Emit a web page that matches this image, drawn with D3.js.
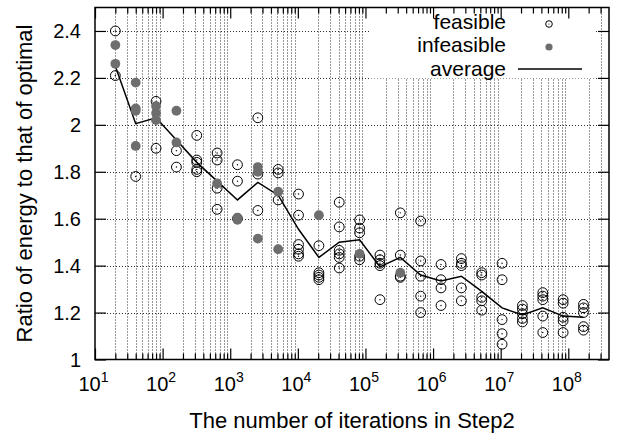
<!DOCTYPE html>
<html>
<head>
<meta charset="utf-8">
<script src="https://cdn.jsdelivr.net/npm/d3@7"></script>
<style>
  body { margin: 0; background: #fff; }
  svg { font-family: "Liberation Sans", Arial, sans-serif; }
</style>
</head>
<body>
<div id="chart"></div>
<script>
// iterations in Step2 (x), one column of points per value
var iterations = [20, 40, 80, 160, 320, 640, 1280, 2560, 5120, 10240, 20480, 40960,
  81920, 163840, 327680, 655360, 1310720, 2621440, 5242880, 10485760, 20971520,
  41943040, 83886080, 167772160];

// ratio of energy, feasible runs (open circles)
var feasible = [
  [2.40, 2.21],
  [1.78],
  [2.10, 1.90],
  [1.89, 1.82],
  [1.955, 1.85, 1.84, 1.81, 1.80],
  [1.88, 1.85, 1.73, 1.64],
  [1.83, 1.76, 1.60],
  [2.03, 1.79, 1.635],
  [1.81, 1.795, 1.68],
  [1.705, 1.615, 1.49, 1.47, 1.45, 1.44],
  [1.485, 1.37, 1.36, 1.35, 1.34],
  [1.67, 1.565, 1.465, 1.45, 1.435, 1.39],
  [1.595, 1.56, 1.54, 1.44, 1.425],
  [1.445, 1.425, 1.41, 1.40, 1.255],
  [1.625, 1.445, 1.355, 1.35],
  [1.59, 1.42, 1.355, 1.27, 1.20],
  [1.405, 1.34, 1.305, 1.23],
  [1.43, 1.41, 1.40, 1.305, 1.25],
  [1.37, 1.36, 1.265, 1.25, 1.21],
  [1.41, 1.34, 1.17, 1.11, 1.065],
  [1.23, 1.215, 1.195, 1.175, 1.16],
  [1.285, 1.27, 1.255, 1.185, 1.115],
  [1.255, 1.24, 1.18, 1.165, 1.115],
  [1.235, 1.22, 1.20, 1.14, 1.125]
];

// ratio of energy, infeasible runs (filled grey)
var infeasible = [
  [2.34, 2.26],
  [2.18, 2.07, 2.06, 1.91],
  [2.08, 2.05, 2.02],
  [2.06, 1.925],
  [],
  [1.75],
  [1.605, 1.595],
  [1.82, 1.80, 1.515],
  [1.715, 1.47],
  [],
  [1.615],
  [],
  [1.45],
  [],
  [1.37],
  [], [], [], [], [], [], [], [], []
];

// average line
var average = [2.25, 2.005, 2.03, 1.935, 1.84, 1.76, 1.68, 1.755, 1.70, 1.555, 1.435,
  1.50, 1.51, 1.395, 1.435, 1.36, 1.335, 1.355, 1.29, 1.22, 1.19, 1.22, 1.185, 1.18];

var yTicks = [1, 1.2, 1.4, 1.6, 1.8, 2, 2.2, 2.4];
var xExponents = [1, 2, 3, 4, 5, 6, 7, 8];

var legendLabels = ["feasible", "infeasible", "average"];

var W = 621, H = 433;
var margin = { top: 7.5, right: 12, bottom: 73.5, left: 95 };
var x0 = margin.left, x1 = W - margin.right,
  y0 = H - margin.bottom, y1 = margin.top;

var svg = d3
  .select("#chart")
  .append("svg")
  .attr("width", W)
  .attr("height", H);

svg.append("rect").attr("width", W).attr("height", H).attr("fill", "#fff");

var x = d3.scaleLog().domain([10, 4e8]).range([x0, x1]);
var y = d3.scaleLinear().domain([1, 2.5]).range([y0, y1]);

// major and minor x ticks
var xMajor = xExponents.map(function (e) { return Math.pow(10, e); });
var xMinor = [];
xMajor.forEach(function (d) {
  for (var m = 2; m <= 9; m++) {
    if (m * d < 4e8) xMinor.push(m * d);
  }
});

// grid: dotted, horizontal at y ticks, vertical only at minor x ticks
var grid = svg.append("g").attr("class", "grid");
grid
  .selectAll("line.gx")
  .data(xMinor)
  .enter()
  .append("line")
  .attr("x1", function (d) { return Math.round(x(d)) + 0.5; })
  .attr("x2", function (d) { return Math.round(x(d)) + 0.5; })
  .attr("y1", y0)
  .attr("y2", y1)
  .attr("stroke", "#333")
  .attr("stroke-width", 1)
  .attr("stroke-dasharray", "1,2");
grid
  .selectAll("line.gy")
  .data(yTicks.slice(1))
  .enter()
  .append("line")
  .attr("x1", x0)
  .attr("x2", x1)
  .attr("y1", function (d) { return Math.round(y(d)) + 0.5; })
  .attr("y2", function (d) { return Math.round(y(d)) + 0.5; })
  .attr("stroke", "#333")
  .attr("stroke-width", 1)
  .attr("stroke-dasharray", "1,2");

// legend box hides the grid behind it
svg
  .append("rect")
  .attr("x", 370)
  .attr("y", y1)
  .attr("width", 224)
  .attr("height", 71)
  .attr("fill", "#fff");

// axes (ticks pointing inwards, mirrored on top/right)
function styleAxis(g) {
  g.select(".domain").remove();
  g.selectAll("line").attr("stroke", "#000").attr("stroke-width", 1.2);
}
svg.append("g").attr("transform", "translate(0," + y0 + ")")
  .call(d3.axisBottom(x).tickValues(xMinor).tickSize(-6).tickFormat(""))
  .call(styleAxis);
svg.append("g").attr("transform", "translate(0," + y1 + ")")
  .call(d3.axisTop(x).tickValues(xMinor).tickSize(-6).tickFormat(""))
  .call(styleAxis);
svg.append("g").attr("transform", "translate(0," + y0 + ")")
  .call(d3.axisBottom(x).tickValues(xMajor).tickSize(-11).tickFormat(""))
  .call(styleAxis);
svg.append("g").attr("transform", "translate(0," + y1 + ")")
  .call(d3.axisTop(x).tickValues(xMajor).tickSize(-11).tickFormat(""))
  .call(styleAxis);
svg.append("g").attr("transform", "translate(" + x0 + ",0)")
  .call(d3.axisLeft(y).tickValues(yTicks).tickSize(-11).tickFormat(""))
  .call(styleAxis);
svg.append("g").attr("transform", "translate(" + x1 + ",0)")
  .call(d3.axisRight(y).tickValues(yTicks).tickSize(-11).tickFormat(""))
  .call(styleAxis);

// tick labels
svg
  .selectAll("text.ylab")
  .data(yTicks)
  .enter()
  .append("text")
  .attr("x", 81)
  .attr("y", function (d) { return y(d) + 7; })
  .attr("text-anchor", "end")
  .attr("font-size", 20)
  .text(function (d) { return d3.format("")(d); });

var xl = svg
  .selectAll("text.xlab")
  .data(xExponents)
  .enter()
  .append("text")
  .attr("x", function (d) { return x(Math.pow(10, d)) - 1.5; })
  .attr("y", 391)
  .attr("text-anchor", "middle")
  .attr("font-size", 20);
xl.append("tspan").text("10");
xl.append("tspan")
  .attr("font-size", 14)
  .attr("dy", -9)
  .text(function (d) { return d; });

// axis titles
svg
  .append("text")
  .attr("x", (x0 + x1) / 2)
  .attr("y", 428)
  .attr("text-anchor", "middle")
  .attr("font-size", 22)
  .text("The number of iterations in Step2");
svg
  .append("text")
  .attr("transform", "translate(31.5," + (y0 + y1) / 2 + ") rotate(-90)")
  .attr("text-anchor", "middle")
  .attr("font-size", 22)
  .text("Ratio of energy to that of optimal");

// average line
svg
  .append("path")
  .datum(average)
  .attr("fill", "none")
  .attr("stroke", "#000")
  .attr("stroke-width", 1.5)
  .attr(
    "d",
    d3.line()
      .x(function (d, i) { return x(iterations[i]); })
      .y(function (d) { return y(d); })
  );

// flatten columns into points
var feasPts = [], infPts = [];
iterations.forEach(function (it, i) {
  feasible[i].forEach(function (v) { feasPts.push({ it: it, v: v }); });
  infeasible[i].forEach(function (v) { infPts.push({ it: it, v: v }); });
});

svg
  .selectAll("circle.feas")
  .data(feasPts)
  .enter()
  .append("circle")
  .attr("cx", function (d) { return x(d.it); })
  .attr("cy", function (d) { return y(d.v); })
  .attr("r", 4.9)
  .attr("fill", "none")
  .attr("stroke", "#000")
  .attr("stroke-width", 1);
svg
  .selectAll("circle.feasdot")
  .data(feasPts)
  .enter()
  .append("circle")
  .attr("cx", function (d) { return x(d.it); })
  .attr("cy", function (d) { return y(d.v); })
  .attr("r", 0.7)
  .attr("fill", "#000");
svg
  .selectAll("circle.inf")
  .data(infPts)
  .enter()
  .append("circle")
  .attr("cx", function (d) { return x(d.it); })
  .attr("cy", function (d) { return y(d.v); })
  .attr("r", 4.9)
  .attr("fill", "#6e6e6e");

// frame
svg
  .append("rect")
  .attr("x", x0)
  .attr("y", y1)
  .attr("width", x1 - x0)
  .attr("height", y0 - y1)
  .attr("fill", "none")
  .attr("stroke", "#000")
  .attr("stroke-width", 1.5);

// legend
var leg = svg.append("g");
leg
  .selectAll("text")
  .data(legendLabels)
  .enter()
  .append("text")
  .attr("x", 506)
  .attr("y", function (d, i) { return 29 + i * 23.3; })
  .attr("text-anchor", "end")
  .attr("font-size", 21)
  .text(function (d) { return d; });
leg.append("circle").attr("cx", 549).attr("cy", 24).attr("r", 3.3)
  .attr("fill", "none").attr("stroke", "#000").attr("stroke-width", 1);
leg.append("circle").attr("cx", 549).attr("cy", 24).attr("r", 0.6).attr("fill", "#000");
leg.append("circle").attr("cx", 549).attr("cy", 47).attr("r", 3.6).attr("fill", "#6e6e6e");
leg.append("line").attr("x1", 518).attr("x2", 582).attr("y1", 69).attr("y2", 69)
  .attr("stroke", "#000").attr("stroke-width", 1.5);
</script>
</body>
</html>
